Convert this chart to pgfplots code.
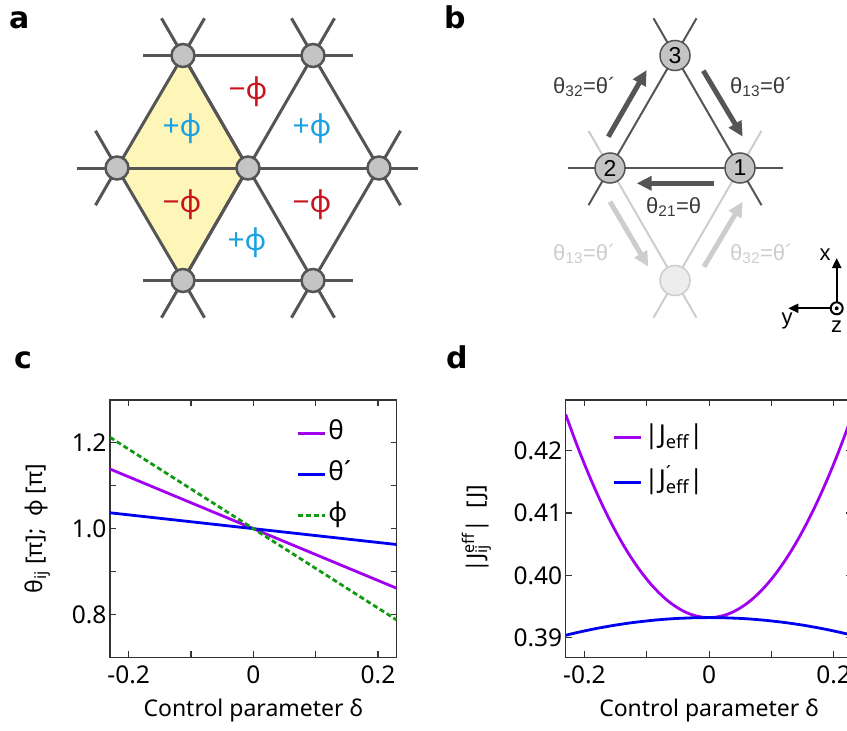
\documentclass[border=0pt]{standalone}
\usepackage{fontspec}
\setmainfont{Noto Sans}
\newfontfamily\lblfont{Liberation Sans}
\newfontfamily\letterfont{DejaVu Sans}
\usepackage{pgfplots}
\usepackage{pgfplotstable}
\pgfplotsset{compat=1.18}
\usetikzlibrary{arrows.meta}

\definecolor{edge}{HTML}{555555}
\definecolor{site}{HTML}{C4C4C4}
\definecolor{ghost}{HTML}{CDCDCD}
\definecolor{ghostfill}{HTML}{EDEDED}
\definecolor{plaq}{HTML}{FDF6B8}
\definecolor{fluxp}{HTML}{1BA1E2}
\definecolor{fluxm}{HTML}{C8141E}
\definecolor{cpurple}{HTML}{A000F0}
\definecolor{cblue}{HTML}{0000EE}
\definecolor{cgreen}{HTML}{119911}

% Peierls phases (units of pi) versus control parameter
\pgfplotstableread{
delta   theta   thetap  phi
-0.23   1.139   1.037   1.213
-0.10   1.0604  1.0161  1.0926
 0.00   1.000   1.000   1.000
 0.10   0.9396  0.9839  0.9074
 0.23   0.861   0.963   0.787
}\phases

% effective tunnelling amplitudes (units of J)
\pgfplotstableread{
delta   Jeff     Jeffp
-0.23   0.42579  0.39043
-0.22   0.42303  0.39067
-0.21   0.42038  0.39090
-0.20   0.41786  0.39112
-0.19   0.41546  0.39133
-0.18   0.41319  0.39153
-0.17   0.41103  0.39171
-0.16   0.40900  0.39189
-0.15   0.40710  0.39206
-0.14   0.40531  0.39221
-0.13   0.40365  0.39236
-0.12   0.40212  0.39249
-0.11   0.40070  0.39261
-0.10   0.39941  0.39272
-0.09   0.39824  0.39283
-0.08   0.39720  0.39292
-0.07   0.39627  0.39300
-0.06   0.39547  0.39307
-0.05   0.39480  0.39313
-0.04   0.39424  0.39317
-0.03   0.39381  0.39321
-0.02   0.39351  0.39324
-0.01   0.39332  0.39325
 0.00   0.39326  0.39326
 0.01   0.39332  0.39325
 0.02   0.39351  0.39324
 0.03   0.39381  0.39321
 0.04   0.39424  0.39317
 0.05   0.39480  0.39313
 0.06   0.39547  0.39307
 0.07   0.39627  0.39300
 0.08   0.39720  0.39292
 0.09   0.39824  0.39283
 0.10   0.39941  0.39272
 0.11   0.40070  0.39261
 0.12   0.40212  0.39249
 0.13   0.40365  0.39236
 0.14   0.40531  0.39221
 0.15   0.40710  0.39206
 0.16   0.40900  0.39189
 0.17   0.41103  0.39171
 0.18   0.41319  0.39153
 0.19   0.41546  0.39133
 0.20   0.41786  0.39112
 0.21   0.42038  0.39090
 0.22   0.42303  0.39067
 0.23   0.42579  0.39043
}\amplitudes

\pgfplotsset{
  panel/.style={
    scale only axis, width=286.7pt, height=257.3pt,
    anchor=south west,
    xmin=-0.23, xmax=0.23,
    xtick={-0.2,0,0.2}, xticklabels={-0.2,0,0.2},
    minor xtick={-0.1,0.1},
    tick align=inside,
    major tick length=6pt, minor tick length=6pt,
    axis line style={draw=black!80, line width=1.1pt},
    every tick/.style={black!80, line width=1.1pt},
    ticklabel style={font=\fontsize{24.5}{28}\selectfont},
    xticklabel style={yshift=-5pt},
    label style={font=\fontsize{23}{27}\selectfont},
    xlabel={Control parameter δ},
    xlabel style={at={(axis description cs:0.5,0)}, anchor=center, yshift=-53pt},
    legend style={draw=none, fill=none, font=\fontsize{26}{30}\selectfont,
      anchor=north west, inner sep=0pt,
      nodes={inner sep=2pt, text height=18pt, text depth=6pt}},
    legend cell align=left,
    legend image code/.code={\draw[#1, line width=2.8pt] (0pt,0pt) -- (27pt,0pt);},
  }
}

\begin{document}
\begin{tikzpicture}
\useasboundingbox (0,0) rectangle (847pt,-731pt);
\clip (0,0) rectangle (847pt,-731pt);

\begin{scope}[x=1pt, y=-1pt]
  % ---------- panel a: triangular lattice with staggered flux ----------
  \coordinate (T1) at (183,55.5);  \coordinate (T2) at (313,55.5);
  \coordinate (L)  at (117,168);   \coordinate (C)  at (248,168);
  \coordinate (R)  at (379,168);
  \coordinate (B1) at (183,280.5); \coordinate (B2) at (313,280.5);
  \fill[plaq] (T1) -- (L) -- (B1) -- (C) -- cycle;
  \begin{scope}[edge, line width=3pt]
    \draw (143,55.5) -- (353,55.5);
    \draw (77,168) -- (418,168);
    \draw (143,280.5) -- (353,280.5);
    \draw (T1) -- (L) -- (B1) -- (C) -- cycle;
    \draw (T1) -- (C) -- (T2) -- (R) -- (B2) -- (C) -- (B1);
    \draw (161.5,18.3) -- (T1) -- (204.5,18.3);
    \draw (291.5,18.3) -- (T2) -- (334.5,18.3);
    \draw (95.5,130.8) -- (L) -- (95.5,205.2);
    \draw (400.5,130.8) -- (R) -- (400.5,205.2);
    \draw (161.5,317.7) -- (B1) -- (204.5,317.7);
    \draw (291.5,317.7) -- (B2) -- (334.5,317.7);
  \end{scope}
  \foreach \p in {T1,T2,L,C,R,B1,B2}
    \draw[edge, fill=site, line width=2.5pt] (\p) circle (11.5);
  \begin{scope}[font=\fontsize{30}{32}\selectfont]
    \node[fluxm] at (248,92)  {−ϕ};
    \node[fluxp] at (182,129) {+ϕ};
    \node[fluxp] at (312,129) {+ϕ};
    \node[fluxm] at (182,205) {−ϕ};
    \node[fluxm] at (312,205) {−ϕ};
    \node[fluxp] at (247,243) {+ϕ};
  \end{scope}

  % ---------- panel b: single plaquette with bond phases ----------
  \coordinate (N3) at (675,55.5); \coordinate (N2) at (610,168);
  \coordinate (N1) at (740,168);  \coordinate (G)  at (675,280.5);
  \begin{scope}[ghost, line width=2pt]
    \draw (588.5,130.8) -- (G) -- (761.5,130.8);
    \draw (653.5,317.7) -- (G) -- (696.5,317.7);
  \end{scope}
  \begin{scope}[edge, line width=2pt]
    \draw (N2) -- (N3) -- (N1);
    \draw (568,168) -- (783,168);
    \draw (653.5,18.3) -- (N3) -- (696.5,18.3);
    \draw (N2) -- (588.5,205.2);
    \draw (N1) -- (761.5,205.2);
  \end{scope}
  \draw[ghost, fill=ghostfill, line width=1.5pt] (G) circle (15);
  \foreach \p/\n in {N1/1,N2/2,N3/3}
    \draw[edge, fill=site, line width=1.5pt] (\p) circle (15)
      node[black, font=\lblfont\fontsize{23}{24}\selectfont] {\n};
  \begin{scope}[line width=5pt, -{Triangle[length=15pt,width=14pt]}]
    \draw[edge] (608.3,136.7) -- (646.7,70);
    \draw[edge] (703.3,70.7) -- (742.7,136.7);
    \draw[edge] (714.3,183.3) -- (636.7,183.3);
    \draw[ghost] (610,201.7) -- (648.3,266.7);
    \draw[ghost] (704,266.7) -- (742.7,201.7);
  \end{scope}
  \begin{scope}[font=\lblfont\fontsize{22}{24}\selectfont, inner sep=0pt]
    \node[edge!70!black, anchor=base west] at (553,93)  {θ\textsubscript{32}=θ´};
    \node[edge!70!black, anchor=base west] at (730,93)  {θ\textsubscript{13}=θ´};
    \node[edge!70!black, anchor=base west] at (646,213) {θ\textsubscript{21}=θ};
    \node[ghost, anchor=base west] at (553,260) {θ\textsubscript{13}=θ´};
    \node[ghost, anchor=base west] at (730,260) {θ\textsubscript{32}=θ´};
  \end{scope}
  % lattice frame
  \draw[line width=2pt, -{Triangle[length=10pt,width=9pt]}] (836.7,302.3) -- (836.7,258);
  \draw[line width=2pt, -{Triangle[length=10pt,width=9pt]}] (830.7,308.3) -- (788.3,308.3);
  \draw[line width=2pt] (836.7,308.3) circle (6);
  \fill (836.7,308.3) circle (2);
  \begin{scope}[font=\lblfont\fontsize{22}{24}\selectfont]
    \node at (825,255) {x};
    \node at (787,321) {y};
    \node at (836.7,327) {z};
  \end{scope}

  % panel letters
  \begin{scope}[font=\letterfont\bfseries\fontsize{30}{32}\selectfont, inner sep=0pt]
    \node[anchor=base west] at (9,28)   {a};
    \node[anchor=base west] at (444,28) {b};
    \node[anchor=base west] at (14,368) {c};
    \node[anchor=base west] at (446,368) {d};
  \end{scope}
\end{scope}

% ---------- panel c: phases ----------
\begin{axis}[panel, at={(110pt,-657.3pt)},
  ymin=0.7, ymax=1.3,
  ytick={0.8,1.0,1.2}, yticklabels={0.8,1.0,1.2},
  minor ytick={0.9,1.1},
  ylabel={θ\textsubscript{ij} [π];\ \ ϕ [π]},
  ylabel style={at={(axis description cs:0,0.5)}, anchor=center, yshift=72pt},
  legend style={at={(rel axis cs:0.65,0.925)}, row sep=13pt},
]
  \addplot[cpurple, line width=2.8pt] table[x=delta, y=theta] {\phases};
  \addlegendentry{θ}
  \addplot[cblue, line width=2.8pt] table[x=delta, y=thetap] {\phases};
  \addlegendentry{θ´}
  \addplot[cgreen, line width=2.8pt, dash pattern=on 5pt off 3pt] table[x=delta, y=phi] {\phases};
  \addlegendentry{ϕ}
\end{axis}

% ---------- panel d: effective tunnelling ----------
\begin{axis}[panel, at={(565.7pt,-657.3pt)},
  ymin=0.3869, ymax=0.4281,
  ytick={0.39,0.40,0.41,0.42}, yticklabels={0.39,0.40,0.41,0.42},
  ylabel={|J\rlap{\textsubscript{ij}}\textsuperscript{eff}|\ \ [J]},
  ylabel style={at={(axis description cs:0,0.5)}, anchor=center, yshift=89pt},
  legend style={at={(rel axis cs:0.163,0.911)}, row sep=17pt},
]
  \addplot[cpurple, line width=2.8pt, smooth] table[x=delta, y=Jeff] {\amplitudes};
  \addlegendentry{|J\textsubscript{eff}|}
  \addplot[cblue, line width=2.8pt, smooth] table[x=delta, y=Jeffp] {\amplitudes};
  \addlegendentry{|J\rlap{\textsuperscript{´}}\textsubscript{eff}|}
\end{axis}
\end{tikzpicture}
\end{document}
